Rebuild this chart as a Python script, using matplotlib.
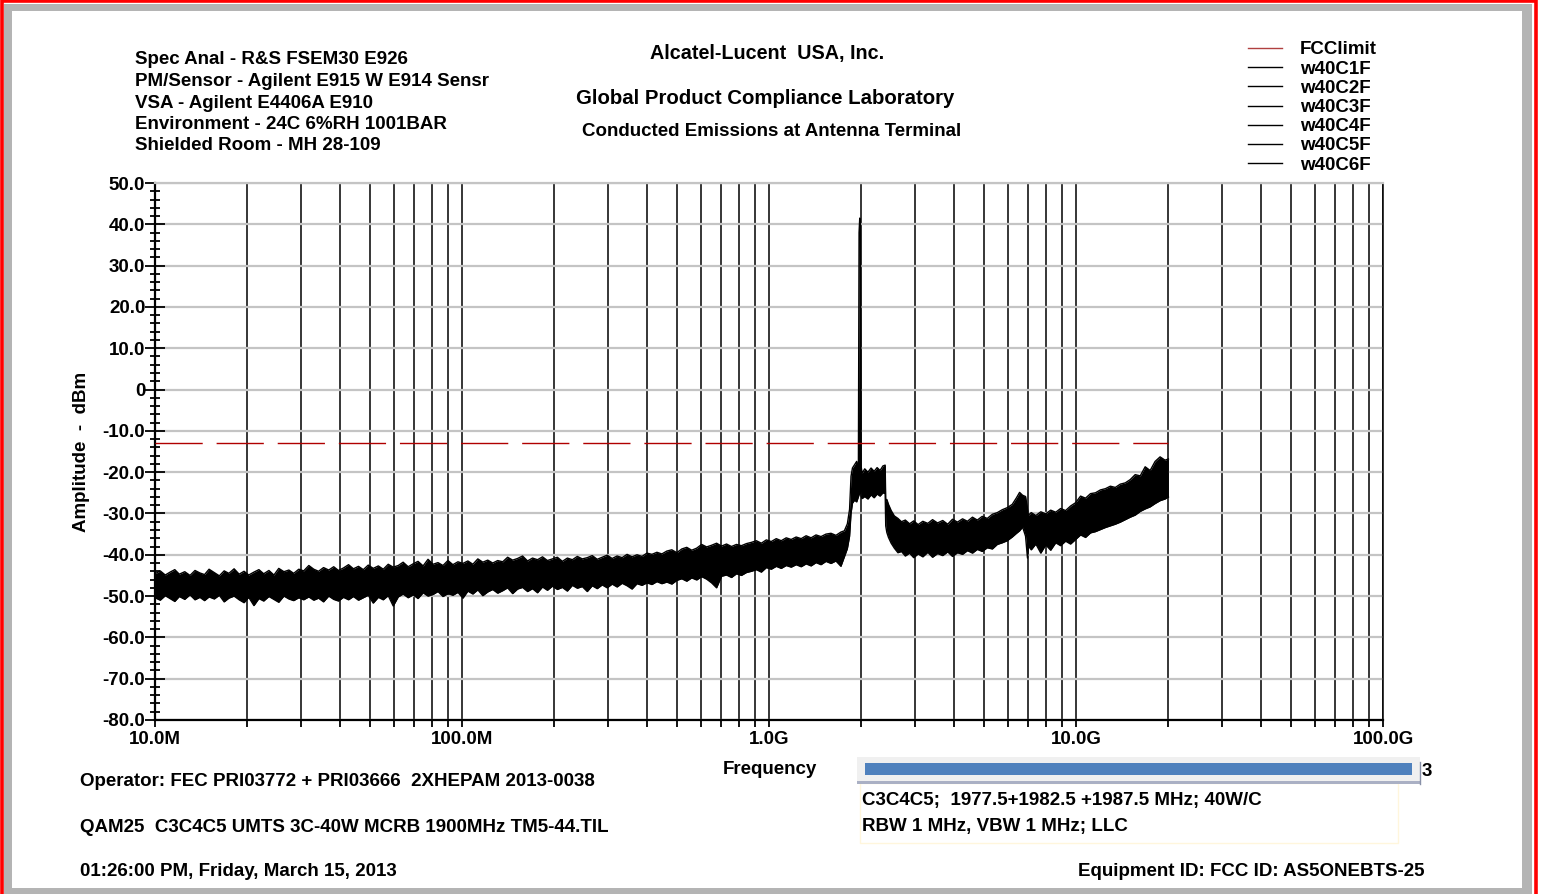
import numpy as np
import matplotlib
matplotlib.use("Agg")
import matplotlib.pyplot as plt
from matplotlib.patches import Rectangle
from matplotlib.lines import Line2D
from matplotlib.ticker import MultipleLocator, FixedLocator, FixedFormatter, LogLocator, NullFormatter

plt.rcParams['font.family'] = ['Liberation Sans', 'DejaVu Sans']
plt.rcParams['font.weight'] = 'bold'

freq_mhz = [10, 10.4, 10.8, 11.2, 11.6, 12.0, 12.5, 13.0, 13.5, 14.0,
            14.5, 15.0, 15.6, 16.2, 16.8, 17.4, 18.1, 18.8, 19.5, 20.2,
            21.0, 21.8, 22.6, 23.5, 24.4, 25.3, 26.3, 27.3, 28.3, 29.4,
            30.5, 31.7, 32.9, 34.1, 35.4, 36.8, 38.2, 39.6, 41.1, 42.7,
            44.3, 46.0, 47.7, 49.5, 51.4, 53.4, 55.4, 57.5, 59.7, 62.0,
            64.3, 66.8, 69.3, 71.9, 74.7, 77.5, 80.5, 83.5, 86.7, 90.0,
            93.4, 97.0, 100.7, 104.5, 108.5, 112.6, 116.9, 121.3, 125.9, 130.7,
            135.7, 140.8, 146.2, 151.7, 157.5, 163.5, 169.7, 176.2, 182.9, 189.8,
            197.0, 204.5, 212.3, 220.4, 228.8, 237.5, 246.5, 255.9, 265.6, 275.7,
            286.2, 297.1, 308.4, 320.1, 332.3, 344.9, 358.0, 371.6, 385.7, 400.4,
            415.6, 431.4, 447.8, 464.8, 482.5, 500.8, 519.8, 539.6, 560.1, 581.4,
            603.5, 626.4, 650.2, 674.9, 700.6, 727.2, 754.8, 783.5, 813.3, 844.2,
            876.3, 909.6, 944.2, 980.1, 1017, 1056, 1096, 1138, 1181, 1226,
            1273, 1321, 1371, 1423, 1477, 1533, 1592, 1652, 1715, 1760,
            1800, 1830, 1850, 1870, 1900, 1930, 1955, 1965, 1975, 1985,
            1995, 2010, 2050, 2100, 2150, 2200, 2250, 2300, 2350, 2390,
            2400, 2420, 2450, 2500, 2560, 2630, 2700, 2780, 2870, 2960,
            3060, 3170, 3290, 3410, 3540, 3680, 3820, 3960, 4110, 4270,
            4430, 4600, 4770, 4950, 5140, 5340, 5540, 5750, 5970, 6200,
            6400, 6550, 6700, 6850, 6950, 7000, 7150, 7400, 7680, 7970,
            8270, 8590, 8910, 9250, 9600, 9970, 10350, 10740, 11150, 11570,
            12010, 12470, 12940, 13430, 13940, 14470, 15020, 15590, 16190, 16800,
            17440, 18100, 18790, 19500, 20000]
upper_dbm = [-44.6, -43.9, -44.9, -44.2, -43.6, -44.7, -44.1, -45.0, -43.8, -44.4,
             -44.8, -43.5, -44.3, -45.1, -43.9, -44.5, -43.4, -44.7, -44.0, -44.9,
             -44.2, -43.6, -44.6, -43.8, -44.9, -43.3, -44.1, -43.7, -44.5, -43.5,
             -43.9, -42.6, -43.5, -44.0, -43.1, -43.7, -42.9, -43.8, -43.2, -42.4,
             -43.4, -42.8, -43.6, -42.5, -43.3, -42.7, -43.5, -42.3, -43.0, -42.6,
             -41.8, -42.9, -42.2, -41.6, -42.7, -41.1, -42.3, -41.9, -42.6, -41.4,
             -42.4, -41.7, -42.1, -41.5, -42.3, -41.0, -41.8, -41.3, -42.0, -41.4,
             -41.7, -40.6, -41.3, -40.9, -40.3, -41.5, -40.8, -41.2, -40.5, -41.4,
             -41.0, -40.6, -41.6, -40.8, -41.2, -40.4, -41.0, -40.7, -40.2, -41.1,
             -40.6, -40.1, -40.9, -40.3, -40.7, -39.9, -40.5, -40.0, -40.4, -39.6,
             -39.9, -39.4, -39.8, -39.1, -38.8, -39.5, -38.6, -38.2, -38.9, -38.4,
             -37.5, -38.1, -37.7, -37.2, -37.9, -37.4, -38.0, -37.5, -37.8, -37.3,
             -37.0, -36.6, -37.2, -36.4, -36.8, -36.1, -36.6, -35.9, -36.3, -35.7,
             -36.1, -35.4, -35.9, -35.2, -35.6, -35.0, -34.8, -35.3, -34.5, -34.2,
             -32.5, -29.0, -21.0, -19.0, -18.2, -17.4, -19.5, 38.0, 41.5, 40.5,
             -18.5, -20.3, -19.2, -20.0, -19.0, -19.8, -18.9, -19.6, -18.5, -18.3,
             -27.0, -26.6, -27.8, -29.3, -30.6, -31.2, -32.0, -31.6, -32.5, -31.8,
             -32.7, -31.9, -32.4, -31.5, -32.3, -31.7, -32.6, -31.4, -32.1, -31.3,
             -31.9, -30.9, -31.6, -30.7, -31.2, -30.2, -29.8, -29.1, -28.6, -27.8,
             -26.2, -24.9, -25.6, -25.9, -29.0, -30.4, -29.8, -30.5, -29.6, -30.1,
             -29.2, -29.7, -28.8, -29.3, -28.2, -27.4, -25.8, -26.3, -25.2, -25.0,
             -24.3, -24.0, -23.4, -23.7, -22.9, -22.6, -21.8, -20.6, -20.9, -18.7,
             -19.6, -17.4, -16.3, -17.1, -16.8]
lower_dbm = [-50.4, -51.0, -49.9, -50.6, -51.3, -50.1, -50.8, -49.7, -50.9, -50.3,
             -51.1, -50.2, -50.7, -49.8, -51.4, -50.5, -50.0, -50.9, -51.6, -50.3,
             -52.3, -50.6, -51.2, -50.1, -50.8, -51.5, -50.0, -50.7, -51.1, -50.4,
             -50.9, -50.2, -51.0, -50.5, -51.4, -50.0, -50.8, -51.2, -50.3, -50.9,
             -50.1, -51.0, -50.4, -49.8, -51.7, -50.3, -50.9, -49.9, -52.4, -50.2,
             -49.5, -50.4, -49.7, -50.6, -49.2, -50.0, -49.6, -48.9, -50.1, -49.4,
             -49.8, -49.1, -50.5, -48.8, -49.5, -48.5, -49.9, -49.0, -48.4, -49.3,
             -48.7, -48.0, -49.4, -48.3, -47.9, -48.9, -48.2, -49.2, -47.8, -48.6,
             -47.6, -48.4, -47.9, -48.8, -47.4, -48.1, -47.7, -48.9, -47.5, -48.2,
             -47.3, -48.0, -47.1, -47.8, -46.9, -47.5, -48.3, -47.0, -47.4, -46.8,
             -47.2, -46.5, -47.0, -46.6, -47.1, -46.2, -45.8, -46.4, -45.6, -46.1,
             -45.3, -45.9, -46.8, -48.0, -45.2, -44.9, -45.5, -44.6, -45.0, -44.3,
             -44.0, -43.6, -44.2, -43.1, -43.5, -42.8, -43.3, -42.6, -43.0, -42.4,
             -42.9, -42.2, -42.7, -41.9, -42.4, -41.6, -42.1, -41.5, -42.8, -40.5,
             -38.5, -35.5, -30.0, -27.5, -26.8, -27.2, -26.0, -25.5, -25.0, -24.5,
             -25.8, -26.4, -25.9, -26.5, -25.5, -26.2, -25.3, -25.8, -25.0, -25.2,
             -33.0, -34.6, -35.8, -37.2, -38.4, -39.5, -39.2, -40.3, -39.6, -40.7,
             -39.8, -40.5, -39.4, -40.6, -39.7, -40.2, -39.3, -40.4, -39.5, -39.9,
             -39.0, -39.6, -38.7, -39.2, -38.3, -38.6, -37.5, -37.1, -36.6, -35.7,
             -34.8, -34.2, -33.3, -35.5, -40.8, -37.9, -38.8, -37.4, -39.6, -37.6,
             -38.9, -37.1, -37.8, -36.7, -37.4, -36.3, -35.2, -35.8, -34.7, -34.4,
             -33.9, -33.4, -33.0, -32.6, -32.1, -31.5, -30.9, -30.4, -29.5, -28.9,
             -28.4, -27.6, -26.9, -26.5, -26.0]

limit_freq_mhz = [10, 20000]
limit_dbm = [-13, -13]

legend_labels = ['FCClimit', 'w40C1F', 'w40C2F', 'w40C3F', 'w40C4F', 'w40C5F', 'w40C6F']
legend_colors = ['#b04040', 'black', 'black', 'black', 'black', 'black', 'black']

xtick_hz = [1e7, 1e8, 1e9, 1e10, 1e11]
xtick_labels = ['10.0M', '100.0M', '1.0G', '10.0G', '100.0G']
ytick_vals = [50, 40, 30, 20, 10, 0, -10, -20, -30, -40, -50, -60, -70, -80]
ytick_labels = ['50.0', '40.0', '30.0', '20.0', '10.0', '0', '-10.0', '-20.0', '-30.0', '-40.0',
                '-50.0', '-60.0', '-70.0', '-80.0']

info_lines = ['Spec Anal - R&S FSEM30 E926', 'PM/Sensor - Agilent E915 W E914 Sensr',
              'VSA - Agilent E4406A E910', 'Environment - 24C 6%RH 1001BAR', 'Shielded Room - MH 28-109']

FS = 13.5
W, H = 1541, 894
fig = plt.figure(figsize=(W / 100, H / 100), dpi=100)

def fx(x):
    return x / W

def fy(y):
    return 1 - y / H

# frame: grey bevel and red outline
for (x0, y0, w, h) in [(4, 4, 1528, 7), (4, 4, 8, 886), (1522, 4, 10, 886), (4, 888, 1528, 6)]:
    fig.add_artist(Rectangle((fx(x0), fy(y0 + h)), w / W, h / H, transform=fig.transFigure,
                             facecolor='#b4b4b4', edgecolor='none'))
fig.add_artist(Rectangle((fx(1.5), fy(H + 2)), 1534 / W, (H + 1) / H, transform=fig.transFigure,
                         facecolor='none', edgecolor='#ff0000', lw=2.6))

ax = fig.add_axes([fx(155), fy(720), 1228 / W, 537 / H])
ax.set_xscale('log')
ax.set_xlim(1e7, 1e11)
ax.set_ylim(-80, 50)

f_hz = np.array(freq_mhz) * 1e6
ax.fill_between(f_hz, lower_dbm, upper_dbm, color='black', lw=0, zorder=3)
ax.plot(f_hz, upper_dbm, color='black', lw=1.0, zorder=3)
ax.plot(f_hz, lower_dbm, color='black', lw=1.0, zorder=3)

lim, = ax.plot(np.array(limit_freq_mhz) * 1e6, limit_dbm, color='#b00000', lw=1.0, zorder=4)
lim.set_dashes((34, 10))

ax.xaxis.set_major_locator(FixedLocator(xtick_hz))
ax.xaxis.set_major_formatter(FixedFormatter(xtick_labels))
ax.xaxis.set_minor_locator(LogLocator(base=10, subs=np.arange(2, 10), numticks=20))
ax.xaxis.set_minor_formatter(NullFormatter())
ax.yaxis.set_major_locator(FixedLocator(ytick_vals))
ax.yaxis.set_major_formatter(FixedFormatter(ytick_labels))
ax.yaxis.set_minor_locator(MultipleLocator(2))

ax.grid(which='both', axis='x', color='black', lw=1.1, zorder=1)
ax.grid(which='major', axis='y', color='#c4c4c4', lw=1.6, zorder=0)
ax.set_axisbelow(True)

ax.tick_params(axis='y', which='major', direction='inout', length=14, width=1.3, labelsize=FS, pad=0)
ax.tick_params(axis='y', which='minor', direction='inout', length=7, width=1.3)
ax.tick_params(axis='x', which='major', direction='out', length=5, width=1.3, labelsize=FS, pad=3)
ax.tick_params(axis='x', which='minor', direction='out', length=5, width=1.3)
for lab in ax.get_xticklabels() + ax.get_yticklabels():
    lab.set_fontweight('bold')

ax.spines['left'].set_linewidth(1.6)
ax.spines['bottom'].set_linewidth(1.6)
ax.spines['top'].set_color('#c4c4c4')
ax.spines['top'].set_linewidth(1.6)
ax.spines['right'].set_linewidth(1.1)

ax.set_ylabel('Amplitude  -  dBm', fontsize=FS, fontweight='bold', labelpad=9)
fig.text(fx(770), fy(769), 'Frequency', fontsize=FS, fontweight='bold', ha='center', va='center')

# header text
for i, line in enumerate(info_lines):
    fig.text(fx(135), fy(60 + i * 21.5), line, fontsize=FS, fontweight='bold', va='center')
fig.text(fx(767), fy(53), 'Alcatel-Lucent  USA, Inc.', fontsize=14.2, fontweight='bold', ha='center', va='center')
fig.text(fx(765), fy(98), 'Global Product Compliance Laboratory', fontsize=14.7, fontweight='bold', ha='center', va='center')
fig.text(fx(772), fy(132), 'Conducted Emissions at Antenna Terminal', fontsize=FS, fontweight='bold', ha='center', va='center')

# legend
for i, (lab, col) in enumerate(zip(legend_labels, legend_colors)):
    yy = fy(48 + i * 19.2)
    fig.add_artist(Line2D([fx(1248), fx(1282)], [yy, yy], color=col, lw=1.0, transform=fig.transFigure))
    fig.text(fx(1300), fy(50 + i * 19.2), lab, fontsize=FS, fontweight='bold', va='center')

# footer text
fig.text(fx(80), fy(782), 'Operator: FEC PRI03772 + PRI03666  2XHEPAM 2013-0038', fontsize=FS, fontweight='bold', va='center')
fig.text(fx(80), fy(828), 'QAM25  C3C4C5 UMTS 3C-40W MCRB 1900MHz TM5-44.TIL', fontsize=FS, fontweight='bold', va='center')
fig.text(fx(80), fy(872), '01:26:00 PM, Friday, March 15, 2013', fontsize=FS, fontweight='bold', va='center')
fig.text(fx(1424), fy(872), 'Equipment ID: FCC ID: AS5ONEBTS-25', fontsize=FS, fontweight='bold', ha='right', va='center')

# note box with scroll bar
fig.add_artist(Rectangle((fx(860), fy(843)), 538 / W, 60 / H, transform=fig.transFigure,
                         facecolor='none', edgecolor='#fff6dc', lw=1))
fig.add_artist(Rectangle((fx(857), fy(784)), 563 / W, 27 / H, transform=fig.transFigure,
                         facecolor='#f0f0f0', edgecolor='none'))
fig.add_artist(Rectangle((fx(857), fy(784)), 563 / W, 3 / H, transform=fig.transFigure,
                         facecolor='#aab0c4', edgecolor='none'))
fig.add_artist(Rectangle((fx(865), fy(775)), 547 / W, 12 / H, transform=fig.transFigure,
                         facecolor='#4f81bd', edgecolor='none'))
fig.add_artist(Line2D([fx(1420), fx(1420)], [fy(762), fy(784)], color='#8890a8', lw=1, transform=fig.transFigure))
fig.text(fx(1422), fy(772), '3', fontsize=FS, fontweight='bold', va='center')
fig.text(fx(862), fy(800), 'C3C4C5;  1977.5+1982.5 +1987.5 MHz; 40W/C', fontsize=FS, fontweight='bold', va='center')
fig.text(fx(862), fy(827), 'RBW 1 MHz, VBW 1 MHz; LLC', fontsize=FS, fontweight='bold', va='center')

fig.savefig('out.png', dpi=100)
